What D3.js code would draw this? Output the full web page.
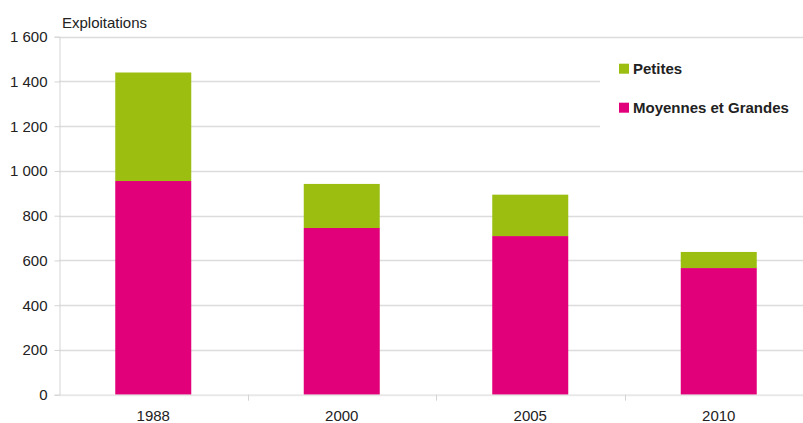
<!DOCTYPE html>
<html><head><meta charset="utf-8">
<script src="https://cdn.jsdelivr.net/npm/d3@7"></script>
<style>body{margin:0;background:#fff}svg{display:block}text{font-family:"Liberation Sans",Arial,sans-serif;fill:#222}</style>
</head><body><svg id="c" width="803" height="423"></svg>
<script>
const categories = ["1988","2000","2005","2010"];
const moyennesGrandes = [955, 745, 709, 566];
const petites = [485, 197, 185, 72];
const yTicks = [0,200,400,600,800,1000,1200,1400,1600];
const seriesNames = ["Petites","Moyennes et Grandes"];
const colors = {"Petites":"#9bbe10","Moyennes et Grandes":"#e2007a"};

(function(){
const svg = d3.select("#c");
const mLeft = 59, mRight = 813, mTop = 36.7, mBottom = 394.7;
const xb = d3.scaleBand().domain(categories).range([mLeft,mRight]);
const y = d3.scaleLinear().domain([0,1600]).range([mBottom,mTop]);
const fmt = v => d3.format(",")(v).replace(/,/g," ");
const FF = "'Liberation Sans',Arial,sans-serif";

// gridlines
svg.append("g").selectAll("line").data(yTicks.filter(d=>d>0)).join("line")
  .attr("x1",mLeft).attr("x2",803).attr("y1",d=>Math.round(y(d))+0.5).attr("y2",d=>Math.round(y(d))+0.5)
  .attr("stroke","#dcdcdc").attr("stroke-width",1.3);

// y axis
const ya = svg.append("g").attr("transform",`translate(${mLeft+0.5},0)`)
  .call(d3.axisLeft(y).tickValues(yTicks).tickFormat(fmt).tickSize(5).tickPadding(7));
ya.select(".domain").attr("stroke","#d4d4d4");
ya.selectAll(".tick line").attr("stroke","#d4d4d4");
ya.selectAll(".tick text").style("font-size","15px").style("font-family",FF).attr("fill","#222");

// bars
const rows = categories.map((c,i)=>({cat:c,"Moyennes et Grandes":moyennesGrandes[i],"Petites":petites[i]}));
const stack = d3.stack().keys(["Moyennes et Grandes","Petites"])(rows);
const bw = 76;
svg.append("g").selectAll("g").data(stack).join("g").attr("fill",d=>colors[d.key])
  .selectAll("rect").data(d=>d).join("rect")
  .attr("x",d=>xb(d.data.cat)+xb.bandwidth()/2-bw/2)
  .attr("width",bw)
  .attr("y",d=>y(d[1]))
  .attr("height",d=>y(d[0])-y(d[1]));

// x axis
const xa = svg.append("g").attr("transform",`translate(0,${mBottom})`)
  .call(d3.axisBottom(xb).tickSize(0).tickPadding(16));
xa.select(".domain").remove();
xa.selectAll(".tick text").style("font-size","15px").style("font-family",FF).attr("fill","#222");
svg.append("line").attr("x1",mLeft).attr("x2",803).attr("y1",mBottom+0.5).attr("y2",mBottom+0.5)
  .attr("stroke","#d8d8d8").attr("stroke-width",2).attr("stroke-opacity",0.6);
svg.append("g").selectAll("line").data(categories.slice(1)).join("line")
  .attr("x1",d=>Math.round(xb(d))+0.5).attr("x2",d=>Math.round(xb(d))+0.5)
  .attr("y1",mBottom).attr("y2",mBottom+6).attr("stroke","#d4d4d4");

// title
svg.append("text").attr("x",62).attr("y",27.5).style("font-size","15px").text("Exploitations");

// legend
svg.append("rect").attr("x",600).attr("y",42).attr("width",203).attr("height",90).attr("fill","#fff");
const lg = svg.append("g").selectAll("g").data(seriesNames).join("g")
  .attr("transform",(d,i)=>`translate(619,${63.7+i*39})`);
lg.append("rect").attr("width",10).attr("height",10).attr("fill",d=>colors[d]);
lg.append("text").attr("x",14).attr("y",10.5).style("font-size","15px").style("font-weight","bold").text(d=>d);
})();
</script></body></html>
